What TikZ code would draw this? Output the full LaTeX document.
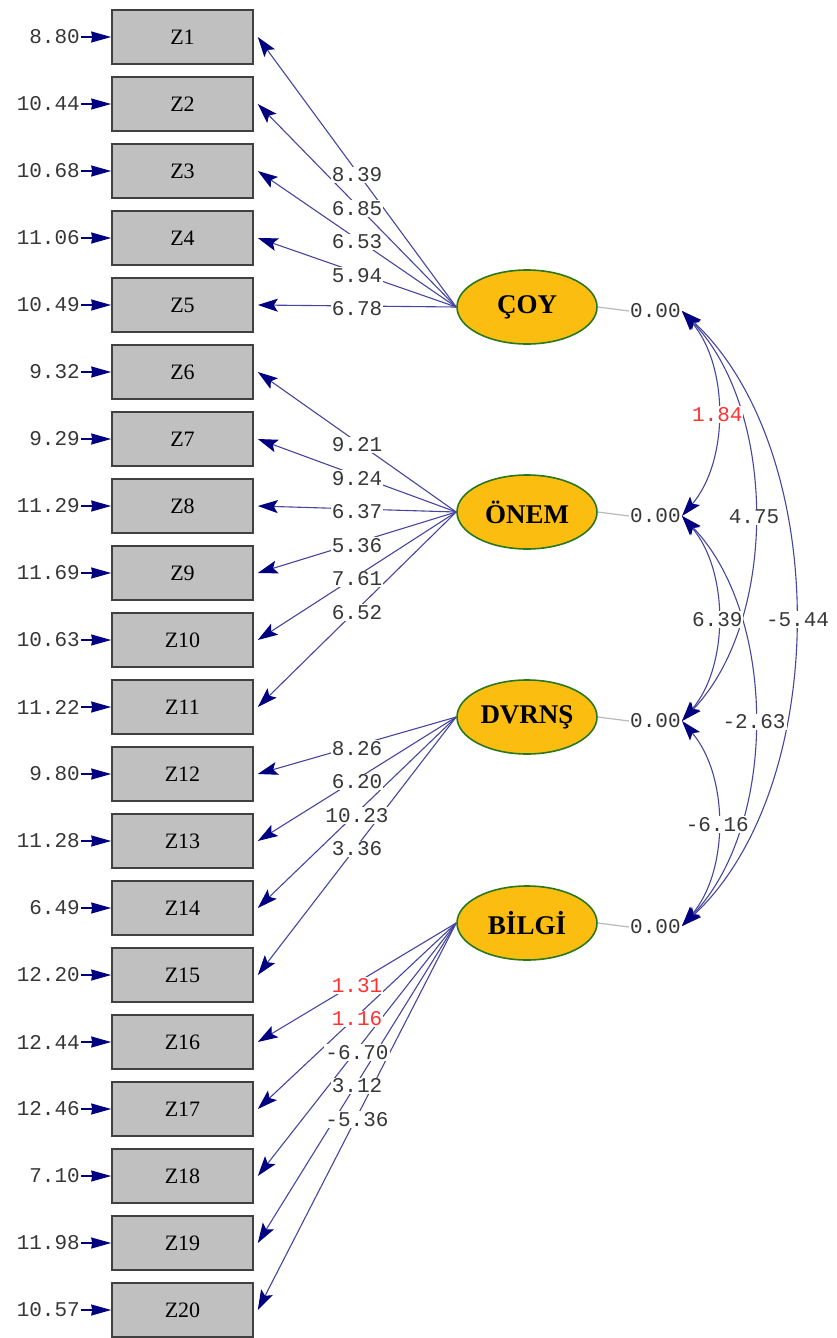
\documentclass[tikz,border=0pt]{standalone}
\usepackage{fontspec}
\setmainfont{Liberation Serif}
\newfontfamily\monofont{Liberation Mono}
\usetikzlibrary{arrows.meta,shapes.geometric}
\definecolor{pathblue}{RGB}{70,70,160}
\definecolor{headblue}{RGB}{0,0,128}
\definecolor{latentfill}{RGB}{251,190,16}
\definecolor{latentrim}{RGB}{40,120,30}
\definecolor{boxfill}{RGB}{192,192,192}
\definecolor{boxrim}{RGB}{64,64,64}
\definecolor{numgray}{RGB}{55,55,55}
\definecolor{numred}{RGB}{255,50,50}
\definecolor{stubgray}{RGB}{185,185,185}
\begin{document}
\begin{tikzpicture}[x=1pt,y=-1pt,
  obs/.style={draw=boxrim, line width=1.6pt, fill=boxfill, minimum width=141pt,
    minimum height=54pt, inner sep=0pt, font=\fontsize{22}{22}\selectfont},
  lat/.style={ellipse, draw=latentrim, line width=1.6pt, fill=latentfill,
    minimum width=140pt, minimum height=74pt, inner sep=0pt,
    font=\fontsize{27}{27}\selectfont\bfseries},
  num/.style={font=\monofont\fontsize{21}{21}\selectfont, text=numgray, inner sep=1pt},
  lbl/.style={num, fill=white},
  loading/.style={draw=pathblue, line width=1.1pt,
    -{Stealth[length=20pt,width=13pt,inset=4pt,color=headblue]}},
  errarrow/.style={draw=headblue, line width=1.5pt,
    -{Stealth[length=20pt,width=11pt,inset=1pt,color=headblue]}},
  cov/.style={draw=pathblue, line width=1.1pt,
    {Stealth[length=20pt,width=13pt,inset=4pt,color=headblue]}-{Stealth[length=20pt,width=13pt,inset=4pt,color=headblue]}},
  stub/.style={draw=stubgray, line width=1.2pt}]

% canvas
\fill[white] (0,0) rectangle (836,1338);
\useasboundingbox (0,0) rectangle (836,1338);

% observed variables with their error variances
\foreach \i/\ev in {1/8.80,2/10.44,3/10.68,4/11.06,5/10.49,6/9.32,7/9.29,8/11.29,9/11.69,10/10.63,
                    11/11.22,12/9.80,13/11.28,14/6.49,15/12.20,16/12.44,17/12.46,18/7.10,19/11.98,20/10.57}{
  \pgfmathsetmacro{\yy}{37+(\i-1)*67}
  \node[obs] (z\i) at (182.5,\yy) {Z\i};
  \node[num, anchor=east] (e\i) at (81,\yy) {\ev};
  \draw[errarrow] (e\i.east) -- (z\i.west);
}

% latent variables
\node[lat] (f1) at (527,307) {ÇOY};
\node[lat] (f2) at (527,512) {ÖNEM};
\node[lat] (f3) at (527,717) {DVRNŞ};
\node[lat] (f4) at (527,923) {BİLGİ};

% latent variances
\node[num, anchor=west] (v1) at (629,311) {0.00};
\node[num, anchor=west] (v2) at (629,516) {0.00};
\node[num, anchor=west] (v3) at (629,721) {0.00};
\node[num, anchor=west] (v4) at (629,927) {0.00};
\foreach \k in {1,2,3,4}{
  \draw[stub] (f\k.east) -- (v\k.west);
}

% factor loadings
\def\loadings{1/1/8.39/numgray, 1/2/6.85/numgray, 1/3/6.53/numgray, 1/4/5.94/numgray, 1/5/6.78/numgray,
  2/6/9.21/numgray, 2/7/9.24/numgray, 2/8/6.37/numgray, 2/9/5.36/numgray, 2/10/7.61/numgray, 2/11/6.52/numgray,
  3/12/8.26/numgray, 3/13/6.20/numgray, 3/14/10.23/numgray, 3/15/3.36/numgray,
  4/16/1.31/numred, 4/17/1.16/numred, 4/18/-6.70/numgray, 4/19/3.12/numgray, 4/20/-5.36/numgray}
\foreach \f/\i/\t/\c in \loadings{
  \draw[loading] (f\f.west) -- ([xshift=4pt]z\i.east);
}
\foreach \f/\i/\t/\c in \loadings{
  \path (f\f.west) -- ([xshift=4pt]z\i.east) node[midway, lbl, text=\c, yshift=-3pt] {\t};
}

% covariances between latent variables
\coordinate (c1) at (682,311);
\coordinate (c2) at (682,516);
\coordinate (c3) at (682,721);
\coordinate (c4) at (682,926);
\draw[cov] (c1) .. controls +(47,55) and +(47,-55) .. (c2) coordinate[pos=0.5] (m12);
\draw[cov] (c2) .. controls +(47,55) and +(47,-55) .. (c3) coordinate[pos=0.5] (m23);
\draw[cov] (c3) .. controls +(47,55) and +(47,-55) .. (c4) coordinate[pos=0.5] (m34);
\draw[cov] (c1) .. controls +(96,100) and +(96,-100) .. (c3) coordinate[pos=0.5] (m13);
\draw[cov] (c2) .. controls +(96,100) and +(96,-100) .. (c4) coordinate[pos=0.5] (m24);
\draw[cov] (c1) .. controls +(150,140) and +(150,-140) .. (c4) coordinate[pos=0.5] (m14);
\node[lbl, text=numred] at ([yshift=-1pt]m12) {1.84};
\node[lbl] at ([yshift=-1pt]m23) {6.39};
\node[lbl] at ([yshift=-1pt]m34) {-6.16};
\node[lbl] at ([yshift=-1pt]m13) {4.75};
\node[lbl] at ([yshift=-1pt]m24) {-2.63};
\node[lbl] at ([xshift=3pt,yshift=-1pt]m14) {-5.44};
\end{tikzpicture}
\end{document}
